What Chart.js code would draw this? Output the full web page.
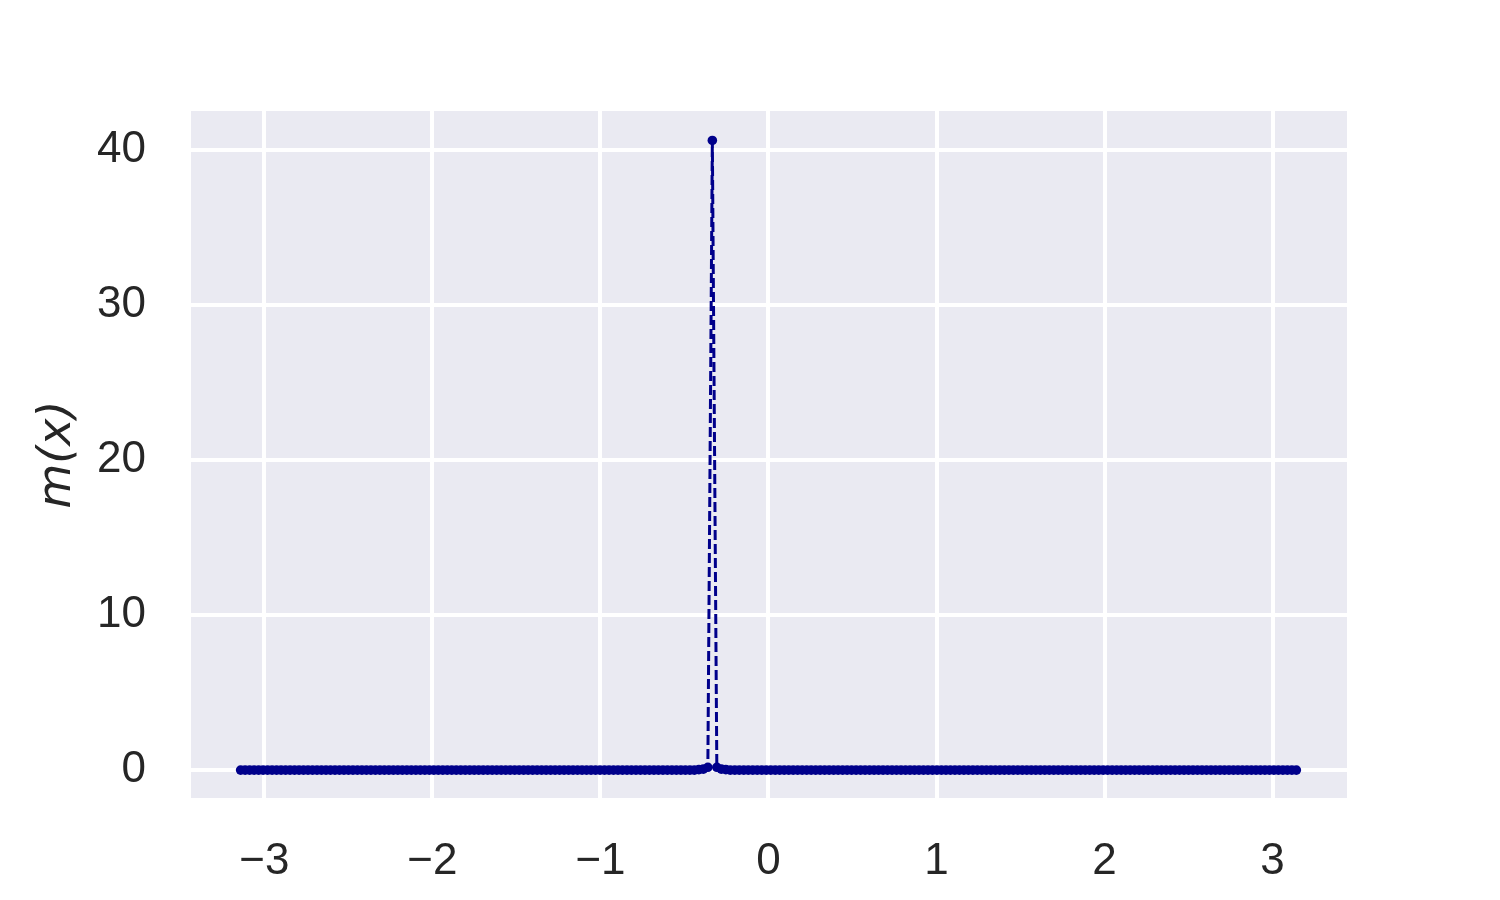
<!DOCTYPE html>
<html>
<head>
<meta charset="utf-8">
<script src="https://cdn.jsdelivr.net/npm/chart.js@4.4.1/dist/chart.umd.min.js"></script>
<style>
  html, body { margin: 0; padding: 0; background: #ffffff; overflow: hidden; }
  #wrap { width: 1500px; height: 900px; }
</style>
</head>
<body>
<div id="wrap"><canvas id="mChart" width="1500" height="900"></canvas></div>
<script>
// sample grid: evenly spaced points from -pi to pi
const xStart = -Math.PI;
const xEnd = Math.PI;
const sampleCount = 236;

// m(x): flat near zero, one spike near x = -0.33
const mValues = [
  0, 0, 0, 0, 0, 0, 0, 0, 0, 0, 0, 0, 0, 0, 0, 0, 0, 0, 0, 0,
  0, 0, 0, 0, 0, 0, 0, 0, 0, 0, 0, 0, 0, 0, 0, 0, 0, 0, 0, 0,
  0, 0, 0, 0, 0, 0, 0, 0, 0, 0, 0, 0, 0, 0, 0, 0, 0, 0, 0, 0,
  0, 0, 0, 0, 0, 0, 0, 0, 0, 0, 0, 0, 0, 0, 0, 0, 0, 0, 0, 0,
  0, 0, 0, 0, 0, 0, 0, 0, 0, 0, 0, 0, 0, 0, 0, 0, 0, 0, 0, 0,
  0, 0, 0.03, 0.06, 0.18, 40.6, 0.18, 0.06, 0.03, 0, 0, 0, 0, 0, 0, 0, 0, 0, 0, 0,
  0, 0, 0, 0, 0, 0, 0, 0, 0, 0, 0, 0, 0, 0, 0, 0, 0, 0, 0, 0,
  0, 0, 0, 0, 0, 0, 0, 0, 0, 0, 0, 0, 0, 0, 0, 0, 0, 0, 0, 0,
  0, 0, 0, 0, 0, 0, 0, 0, 0, 0, 0, 0, 0, 0, 0, 0, 0, 0, 0, 0,
  0, 0, 0, 0, 0, 0, 0, 0, 0, 0, 0, 0, 0, 0, 0, 0, 0, 0, 0, 0,
  0, 0, 0, 0, 0, 0, 0, 0, 0, 0, 0, 0, 0, 0, 0, 0, 0, 0, 0, 0,
  0, 0, 0, 0, 0, 0, 0, 0, 0, 0, 0, 0, 0, 0, 0, 0
];

const xTicks = [-3, -2, -1, 0, 1, 2, 3];
const yTicks = [0, 10, 20, 30, 40];

const points = mValues.map(function(v, i) {
    return { x: xStart + i * (xEnd - xStart) / (sampleCount - 1), y: v };
});

// fond gris-bleu de la zone de tracé (style seaborn)
const plotBackground = {
    id: 'plotBackground',
    beforeDraw: function(chart) {
        const a = chart.chartArea;
        const ctx = chart.ctx;
        ctx.save();
        ctx.fillStyle = '#eaeaf2';
        ctx.fillRect(a.left, a.top, a.right - a.left, a.bottom - a.top);
        ctx.restore();
    }
};

const tickFont = { family: '"Liberation Sans", Arial, sans-serif', size: 44 };

new Chart(document.getElementById('mChart').getContext('2d'), {
    type: 'line',
    data: {
        datasets: [{
            data: points,
            borderColor: '#00008b',
            backgroundColor: '#00008b',
            borderWidth: 3,
            borderDash: [10, 4],
            pointRadius: 4.8,
            pointBorderWidth: 0,
            pointBackgroundColor: '#00008b',
            tension: 0,
            fill: false
        }]
    },
    options: {
        responsive: false,
        animation: false,
        layout: {
            padding: { top: 111, right: 153, bottom: 0, left: 0 }
        },
        plugins: {
            legend: { display: false },
            tooltip: { enabled: false }
        },
        scales: {
            x: {
                type: 'linear',
                min: -3.437,
                max: 3.443,
                afterFit: function(scale) { scale.height = 102; },
                afterBuildTicks: function(scale) {
                    scale.ticks = xTicks.map(function(v) { return { value: v }; });
                },
                grid: { color: '#ffffff', lineWidth: 4, drawTicks: false },
                border: { display: false },
                ticks: {
                    padding: 37,
                    color: '#262626',
                    font: tickFont,
                    maxRotation: 0,
                    callback: function(value) {
                        return String(value).replace('-', '\u2212');
                    }
                }
            },
            y: {
                type: 'linear',
                min: -1.8,
                max: 42.5,
                afterFit: function(scale) { scale.width = 191; },
                afterBuildTicks: function(scale) {
                    scale.ticks = yTicks.map(function(v) { return { value: v }; });
                },
                grid: { color: '#ffffff', lineWidth: 4, drawTicks: false },
                border: { display: false },
                ticks: {
                    padding: 45,
                    color: '#262626',
                    font: tickFont
                },
                title: {
                    display: true,
                    text: 'm(x)',
                    color: '#262626',
                    font: { family: '"DejaVu Sans", sans-serif', size: 46, style: 'italic' },
                    padding: { top: 30, bottom: 0 }
                }
            }
        }
    },
    plugins: [plotBackground]
});
</script>
</body>
</html>
